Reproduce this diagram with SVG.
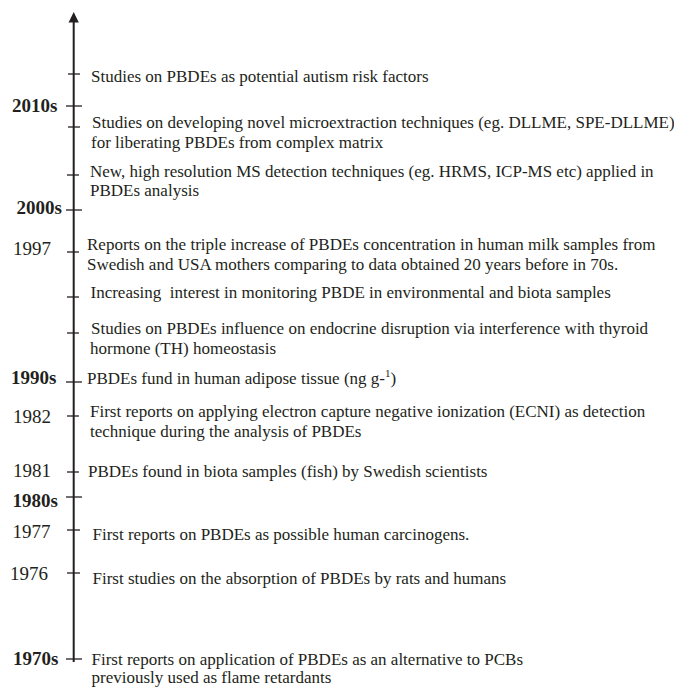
<svg xmlns="http://www.w3.org/2000/svg" width="674" height="688" viewBox="0 0 674 688">
<defs>
<style>
.t{font-family:"Liberation Serif","Times New Roman",serif;font-size:17px;fill:#231f20}
.y{font-family:"Liberation Serif","Times New Roman",serif;font-size:19px;fill:#231f20}
.d{font-family:"Liberation Serif","Times New Roman",serif;font-size:19px;font-weight:bold;fill:#231f20}
.k{stroke:#231f20;stroke-width:1.3;fill:none}
.ax{stroke:#231f20;stroke-width:2;fill:none}
</style>
</defs>
<rect width="674" height="688" fill="#ffffff"/>
<g id="connectors">
<line class="ax" x1="73.7" y1="20" x2="73.7" y2="662"/>
<polygon points="68.6,22.5 73.7,12 78.8,22.5" fill="#231f20"/>
</g>
<g id="autism">
<line class="k" x1="68" y1="74" x2="80" y2="74"/>
<text class="t" x="91" y="82">Studies on PBDEs as potential autism risk factors</text>
</g>
<g id="d2010s">
<line class="k" x1="66" y1="106" x2="82" y2="106"/>
<text class="d" x="12" y="112">2010s</text>
</g>
<g id="microextraction">
<line class="k" x1="68" y1="127" x2="80" y2="127"/>
<text class="t" x="92" y="128">Studies on developing novel microextraction techniques (eg. DLLME, SPE-DLLME)</text>
<text class="t" x="91" y="148">for liberating PBDEs from complex matrix</text>
</g>
<g id="hrms">
<line class="k" x1="67" y1="175" x2="79" y2="175"/>
<text class="t" x="90" y="177">New, high resolution MS detection techniques (eg. HRMS, ICP-MS etc) applied in</text>
<text class="t" x="90" y="196">PBDEs analysis</text>
</g>
<g id="d2000s">
<line class="k" x1="66" y1="210" x2="82" y2="210"/>
<text class="d" x="16.5" y="214">2000s</text>
</g>
<g id="y1997">
<line class="k" x1="67" y1="252" x2="79" y2="252"/>
<text class="y" x="13" y="255">1997</text>
<text class="t" x="87" y="250">Reports on the triple increase of PBDEs concentration in human milk samples from</text>
<text class="t" x="87" y="270">Swedish and USA mothers comparing to data obtained 20 years before in 70s.</text>
</g>
<g id="monitoring">
<line class="k" x1="67" y1="297" x2="79" y2="297"/>
<text class="t" x="90.5" y="297.5" xml:space="preserve" style="white-space:pre">Increasing  interest in monitoring PBDE in environmental and biota samples</text>
</g>
<g id="endocrine">
<line class="k" x1="67" y1="333" x2="79" y2="333"/>
<text class="t" x="91" y="334">Studies on PBDEs influence on endocrine disruption via interference with thyroid</text>
<text class="t" x="90" y="353.5">hormone (TH) homeostasis</text>
</g>
<g id="d1990s">
<line class="k" x1="66" y1="382" x2="82" y2="382"/>
<text class="d" x="11" y="383.5">1990s</text>
<text class="t" x="87" y="383.5">PBDEs fund in human adipose tissue (ng g-<tspan font-size="11" dy="-7">1</tspan><tspan dy="7">)</tspan></text>
</g>
<g id="y1982">
<line class="k" x1="67" y1="416" x2="79" y2="416"/>
<text class="y" x="13" y="423">1982</text>
<text class="t" x="90" y="417">First reports on applying electron capture negative ionization (ECNI) as detection</text>
<text class="t" x="90" y="437">technique during the analysis of PBDEs</text>
</g>
<g id="y1981">
<line class="k" x1="67" y1="472" x2="79" y2="472"/>
<text class="y" x="13" y="477">1981</text>
<text class="t" x="88" y="477">PBDEs found in biota samples (fish) by Swedish scientists</text>
</g>
<g id="d1980s">
<line class="k" x1="66" y1="497" x2="82" y2="497"/>
<text class="d" x="12.5" y="507">1980s</text>
</g>
<g id="y1977">
<line class="k" x1="67" y1="530" x2="80" y2="530"/>
<text class="y" x="12.5" y="538">1977</text>
<text class="t" x="92.5" y="540">First reports on PBDEs as possible human carcinogens.</text>
</g>
<g id="y1976">
<line class="k" x1="67" y1="573" x2="80" y2="573"/>
<text class="y" x="10" y="580">1976</text>
<text class="t" x="92.5" y="584">First studies on the absorption of PBDEs by rats and humans</text>
</g>
<g id="d1970s">
<line class="k" x1="66" y1="659" x2="82" y2="659"/>
<text class="d" x="13" y="665">1970s</text>
<text class="t" x="91.5" y="665">First reports on application of PBDEs as an alternative to PCBs</text>
<text class="t" x="91.5" y="683">previously used as flame retardants</text>
</g>
</svg>
